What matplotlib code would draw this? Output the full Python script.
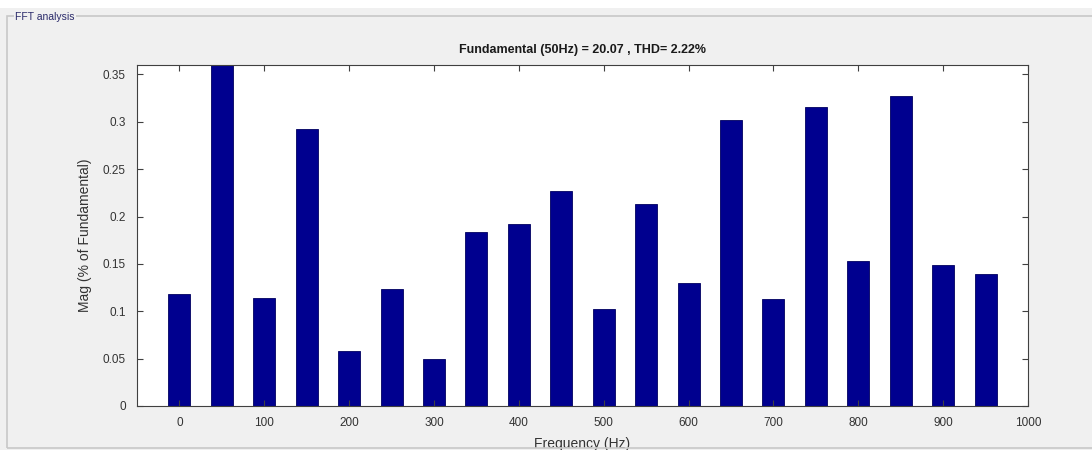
import matplotlib
matplotlib.use("Agg")
import matplotlib.pyplot as plt
from matplotlib.patches import Rectangle
import numpy as np

# harmonic spectrum, 50 Hz steps
freqs = [0, 50, 100, 150, 200, 250, 300, 350, 400, 450,
         500, 550, 600, 650, 700, 750, 800, 850, 900, 950]
mags = [0.118, 0.38, 0.114, 0.292, 0.058, 0.123, 0.050, 0.184, 0.192, 0.227,
        0.102, 0.213, 0.130, 0.302, 0.113, 0.316, 0.153, 0.327, 0.149, 0.139]
xticks = [0, 100, 200, 300, 400, 500, 600, 700, 800, 900, 1000]
yticks = [0, 0.05, 0.1, 0.15, 0.2, 0.25, 0.3, 0.35]
yticklabels = ["0", "0.05", "0.1", "0.15", "0.2", "0.25", "0.3", "0.35"]
title = "Fundamental (50Hz) = 20.07 , THD= 2.22%"

plt.rcParams['font.family'] = ['Liberation Sans', 'DejaVu Sans']

fig = plt.figure(figsize=(10.92, 4.5), dpi=100)
fig.patch.set_facecolor('#f0f0f0')

# white strip above the panel and group box frame
fig.add_artist(Rectangle((0, 1 - 8 / 450), 1, 8 / 450, transform=fig.transFigure,
                         facecolor='white', edgecolor='none'))
fig.add_artist(Rectangle((7 / 1092, 2 / 450), 1.1, (450 - 16 - 2) / 450,
                         transform=fig.transFigure, facecolor='none',
                         edgecolor='#c8c8c8', linewidth=1.2))
fig.text(15 / 1092, 1 - 17 / 450, "FFT analysis", fontsize=7.5, color='#2a2a6a',
         va='center', ha='left',
         bbox=dict(facecolor='#f0f0f0', edgecolor='none', pad=1))

ax = fig.add_axes([137 / 1092, 1 - 406 / 450, (1028 - 137) / 1092, (406 - 65) / 450])
ax.bar(freqs, mags, width=26, color='#00008f', edgecolor='#000060', linewidth=0.6)

ax.set_xlim(-50, 1000)
ax.set_ylim(0, 0.36)
ax.set_xticks(xticks)
ax.set_yticks(yticks)
ax.set_yticklabels(yticklabels)
ax.tick_params(direction='in', top=True, right=True, length=4, width=0.8,
               labelsize=8.5, colors='#404040', labelcolor='#333333', pad=8)
for s in ax.spines.values():
    s.set_color('#404040')
    s.set_linewidth(0.8)

ax.set_title(title, fontsize=9, fontweight='bold', color='#1a1a1a', pad=9)
ax.set_xlabel("Frequency (Hz)", fontsize=10, color='#333333', labelpad=6)
ax.set_ylabel("Mag (% of Fundamental)", fontsize=10, color='#333333', labelpad=8)

fig.savefig("out.png", dpi=100, facecolor=fig.get_facecolor())
